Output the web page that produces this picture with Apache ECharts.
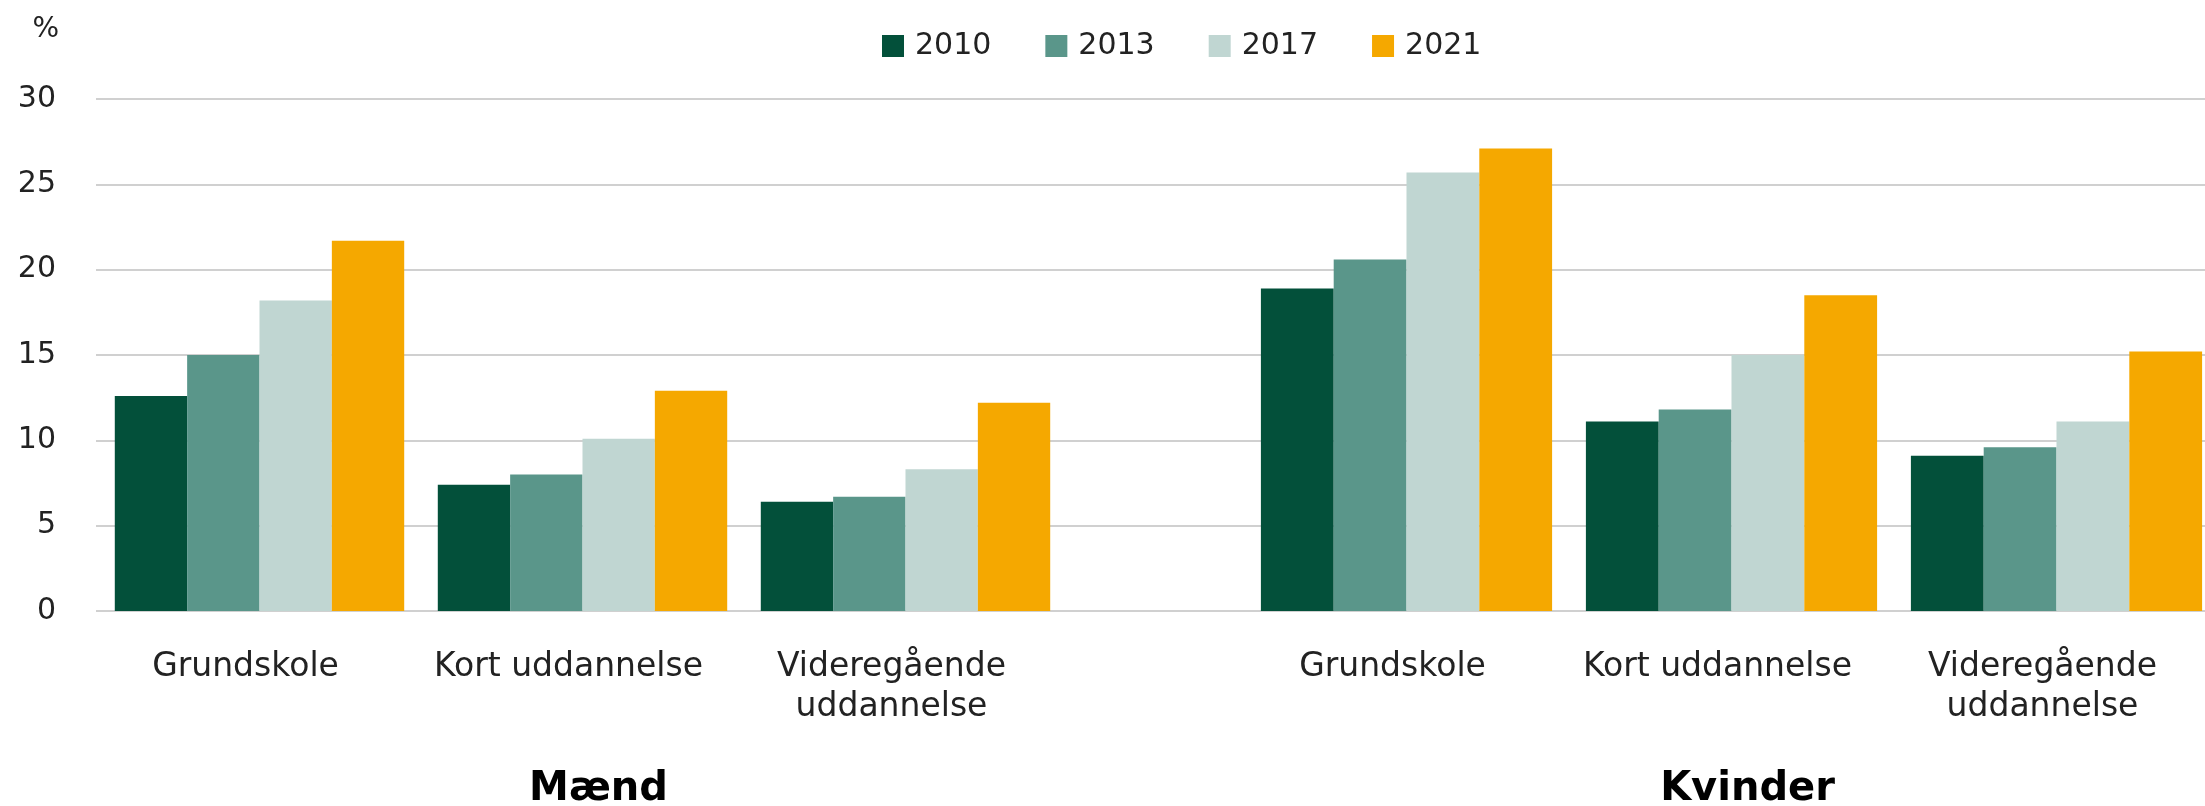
<!DOCTYPE html>
<html>
<head>
<meta charset="utf-8">
<script src="https://cdn.jsdelivr.net/npm/echarts@6/dist/echarts.min.js"></script>
<style>
  html, body { margin: 0; padding: 0; background: #fff; overflow: hidden; }
  /* a bit wider than the window: the last bar group runs off the right edge */
  #chart { width: 2225px; height: 806px; }
</style>
</head>
<body>
<div id="chart"></div>
<script>
// data
const categories = ['Grundskole', 'Kort uddannelse', 'Videregående\nuddannelse']
const years = ['2010', '2013', '2017', '2021']
const groups = ['Mænd', 'Kvinder']
const yTicks = [0, 30, 5] // min, max, interval

const maend2010 = [12.6, 7.4, 6.4]
const maend2013 = [15.0, 8.0, 6.7]
const maend2017 = [18.2, 10.1, 8.3]
const maend2021 = [21.7, 12.9, 12.2]

const kvinder2010 = [18.9, 11.1, 9.1]
const kvinder2013 = [20.6, 11.8, 9.6]
const kvinder2017 = [25.7, 15.0, 11.1]
const kvinder2021 = [27.1, 18.5, 15.2]

const colors = ['#03503a', '#5a968a', '#c0d6d2', '#f5a800']
const font = '"DejaVu Sans", sans-serif'
const textColor = '#222'

const maend = [maend2010, maend2013, maend2017, maend2021]
const kvinder = [kvinder2010, kvinder2013, kvinder2017, kvinder2021]

const chart = echarts.init(document.getElementById('chart'))

const gridTop = 99
const gridBottom = 195

// grid 0 only carries the y axis + gridlines across the full width
const grids = [
  { left: 96, right: 0, top: gridTop, bottom: gridBottom },
  { left: 98, width: 969, top: gridTop, bottom: gridBottom },
  { left: 1244, width: 975, top: gridTop, bottom: gridBottom }
].map(g => Object.assign(g, { outerBoundsMode: 'none', containLabel: false }))

const yAxes = grids.map((g, i) => ({
  type: 'value',
  gridIndex: i,
  min: yTicks[0], max: yTicks[1], interval: yTicks[2],
  show: i === 0,
  name: i === 0 ? '%' : '',
  nameLocation: 'end',
  nameGap: 55,
  nameTextStyle: { fontFamily: font, fontSize: 28, color: textColor, align: 'right', padding: [0, 37, 0, 0] },
  axisLine: { show: false },
  axisTick: { show: false },
  axisLabel: { fontFamily: font, fontSize: 30, color: textColor, margin: 40 },
  splitLine: { show: i === 0, lineStyle: { color: '#d0d0d0', width: 2 } }
}))

const xAxes = [
  { type: 'category', gridIndex: 0, data: [''], show: false }
].concat(groups.map((name, k) => ({
  type: 'category',
  gridIndex: k + 1,
  data: categories,
  axisLine: { show: false },
  axisTick: { show: false },
  axisLabel: {
    fontFamily: font, fontSize: 33, color: textColor, margin: 36, lineHeight: 40,
    interval: 0, padding: [0, 28, 0, 0]
  },
  name,
  nameLocation: 'middle',
  nameGap: 159,
  nameTextStyle: { fontFamily: font, fontSize: 40, fontWeight: 'bold', color: '#000', padding: [0, 0, 0, 32] }
})))

const series = []
;[maend, kvinder].forEach((sets, k) => {
  sets.forEach((vals, j) => {
    series.push({
      name: years[j],
      type: 'bar',
      xAxisIndex: k + 1,
      yAxisIndex: k + 1,
      data: vals,
      barGap: '0%',
      barCategoryGap: '10.4%',
      itemStyle: { color: colors[j] }
    })
  })
})

chart.setOption({
  animation: false,
  color: colors,
  legend: {
    data: years,
    left: 877,
    top: 26,
    icon: 'rect',
    itemWidth: 22,
    itemHeight: 22,
    itemGap: 54,
    textStyle: { fontFamily: font, fontSize: 30, color: textColor, padding: [0, 0, 0, 6] }
  },
  grid: grids,
  xAxis: xAxes,
  yAxis: yAxes,
  series
})
</script>
</body>
</html>
